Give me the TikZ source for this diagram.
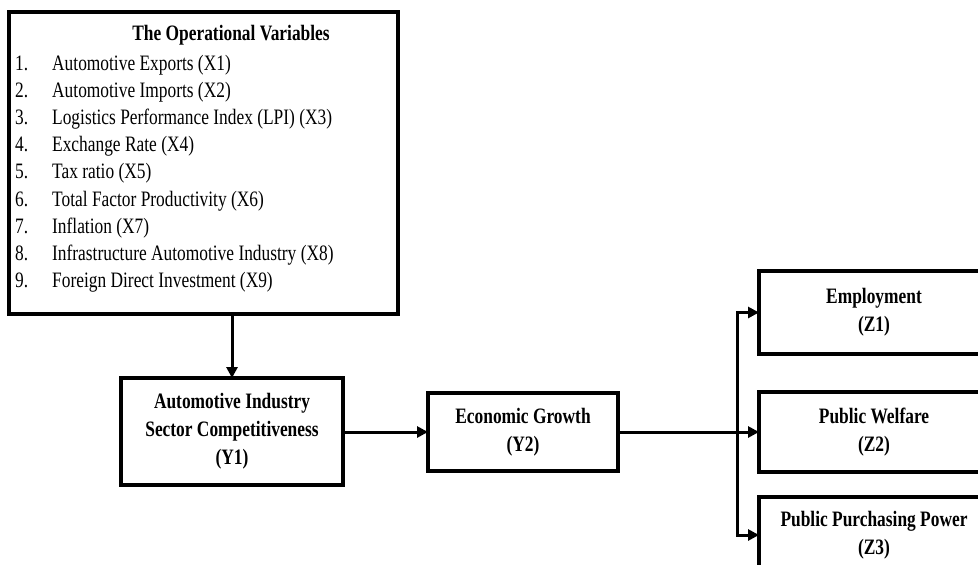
\documentclass[tikz,border=0pt]{standalone}
\usepackage{fontspec}
\setmainfont[FakeStretch=0.79]{Liberation Serif}
\usetikzlibrary{arrows.meta,positioning}
\tikzset{
  boxstyle/.style={draw=black, line width=3.4pt, inner sep=0pt, outer sep=0pt},
  boxtext/.style={align=center, font=\fontsize{22}{28}\selectfont\bfseries},
  conn/.style={line width=3pt, -{Triangle[length=11pt,width=11pt]}},
}
\begin{document}
\begin{tikzpicture}[x=1pt,y=1pt]
\useasboundingbox (0,0) rectangle (978,-565);
\clip (0,0) rectangle (978,-565);
\fill[white] (0,0) rectangle (978,-565);
% top box
\node[boxstyle, minimum width=389pt, minimum height=302pt, anchor=north west] (ov) at (9,-12) {};
\node[anchor=base, inner sep=0pt, font=\fontsize{22}{27}\selectfont\bfseries] (ovtitle) at (231,-40) {The Operational Variables};
\node[anchor=base west, inner sep=0pt, font=\fontsize{22}{27.2}\selectfont] (ovlist) at (15,-70) {%
\begin{tabular}[t]{@{}p{37pt}@{}l@{}}
1. & Automotive Exports (X1)\\
2. & Automotive Imports (X2)\\
3. & Logistics Performance Index (LPI) (X3)\\
4. & Exchange Rate (X4)\\
5. & Tax ratio (X5)\\
6. & Total Factor Productivity (X6)\\
7. & Inflation (X7)\\
8. & Infrastructure Automotive Industry (X8)\\
9. & Foreign Direct Investment (X9)
\end{tabular}};
% Y boxes
\node[boxstyle, boxtext, minimum width=222pt, minimum height=107pt] (y1) at (232,-431.5) {Automotive Industry\\Sector Competitiveness\\(Y1)};
\node[boxstyle, boxtext, minimum width=190pt, minimum height=78pt] (y2) at (523,-432) {Economic Growth\\(Y2)};
% Z boxes
\node[boxstyle, boxtext, minimum width=230pt, minimum height=83pt] (z1) at (874,-312.5) {Employment\\(Z1)};
\node[boxstyle, boxtext, minimum width=230pt, minimum height=80pt] (z2) at (874,-432) {Public Welfare\\(Z2)};
\node[boxstyle, boxtext, minimum width=230pt, minimum height=76pt] (z3) at (874,-535) {Public Purchasing Power\\(Z3)};
% connectors
\draw[conn] (y1.north |- ov.south) -- (y1.north);
\draw[conn] (y1.east |- y2.west) -- (y2.west);
\coordinate (jn) at (737,-432);
\draw[conn] (y2.east) -- (z2.west);
\draw[conn] (jn) |- (z1.west);
\draw[conn] (jn) |- (z3.west);
\end{tikzpicture}
\end{document}
